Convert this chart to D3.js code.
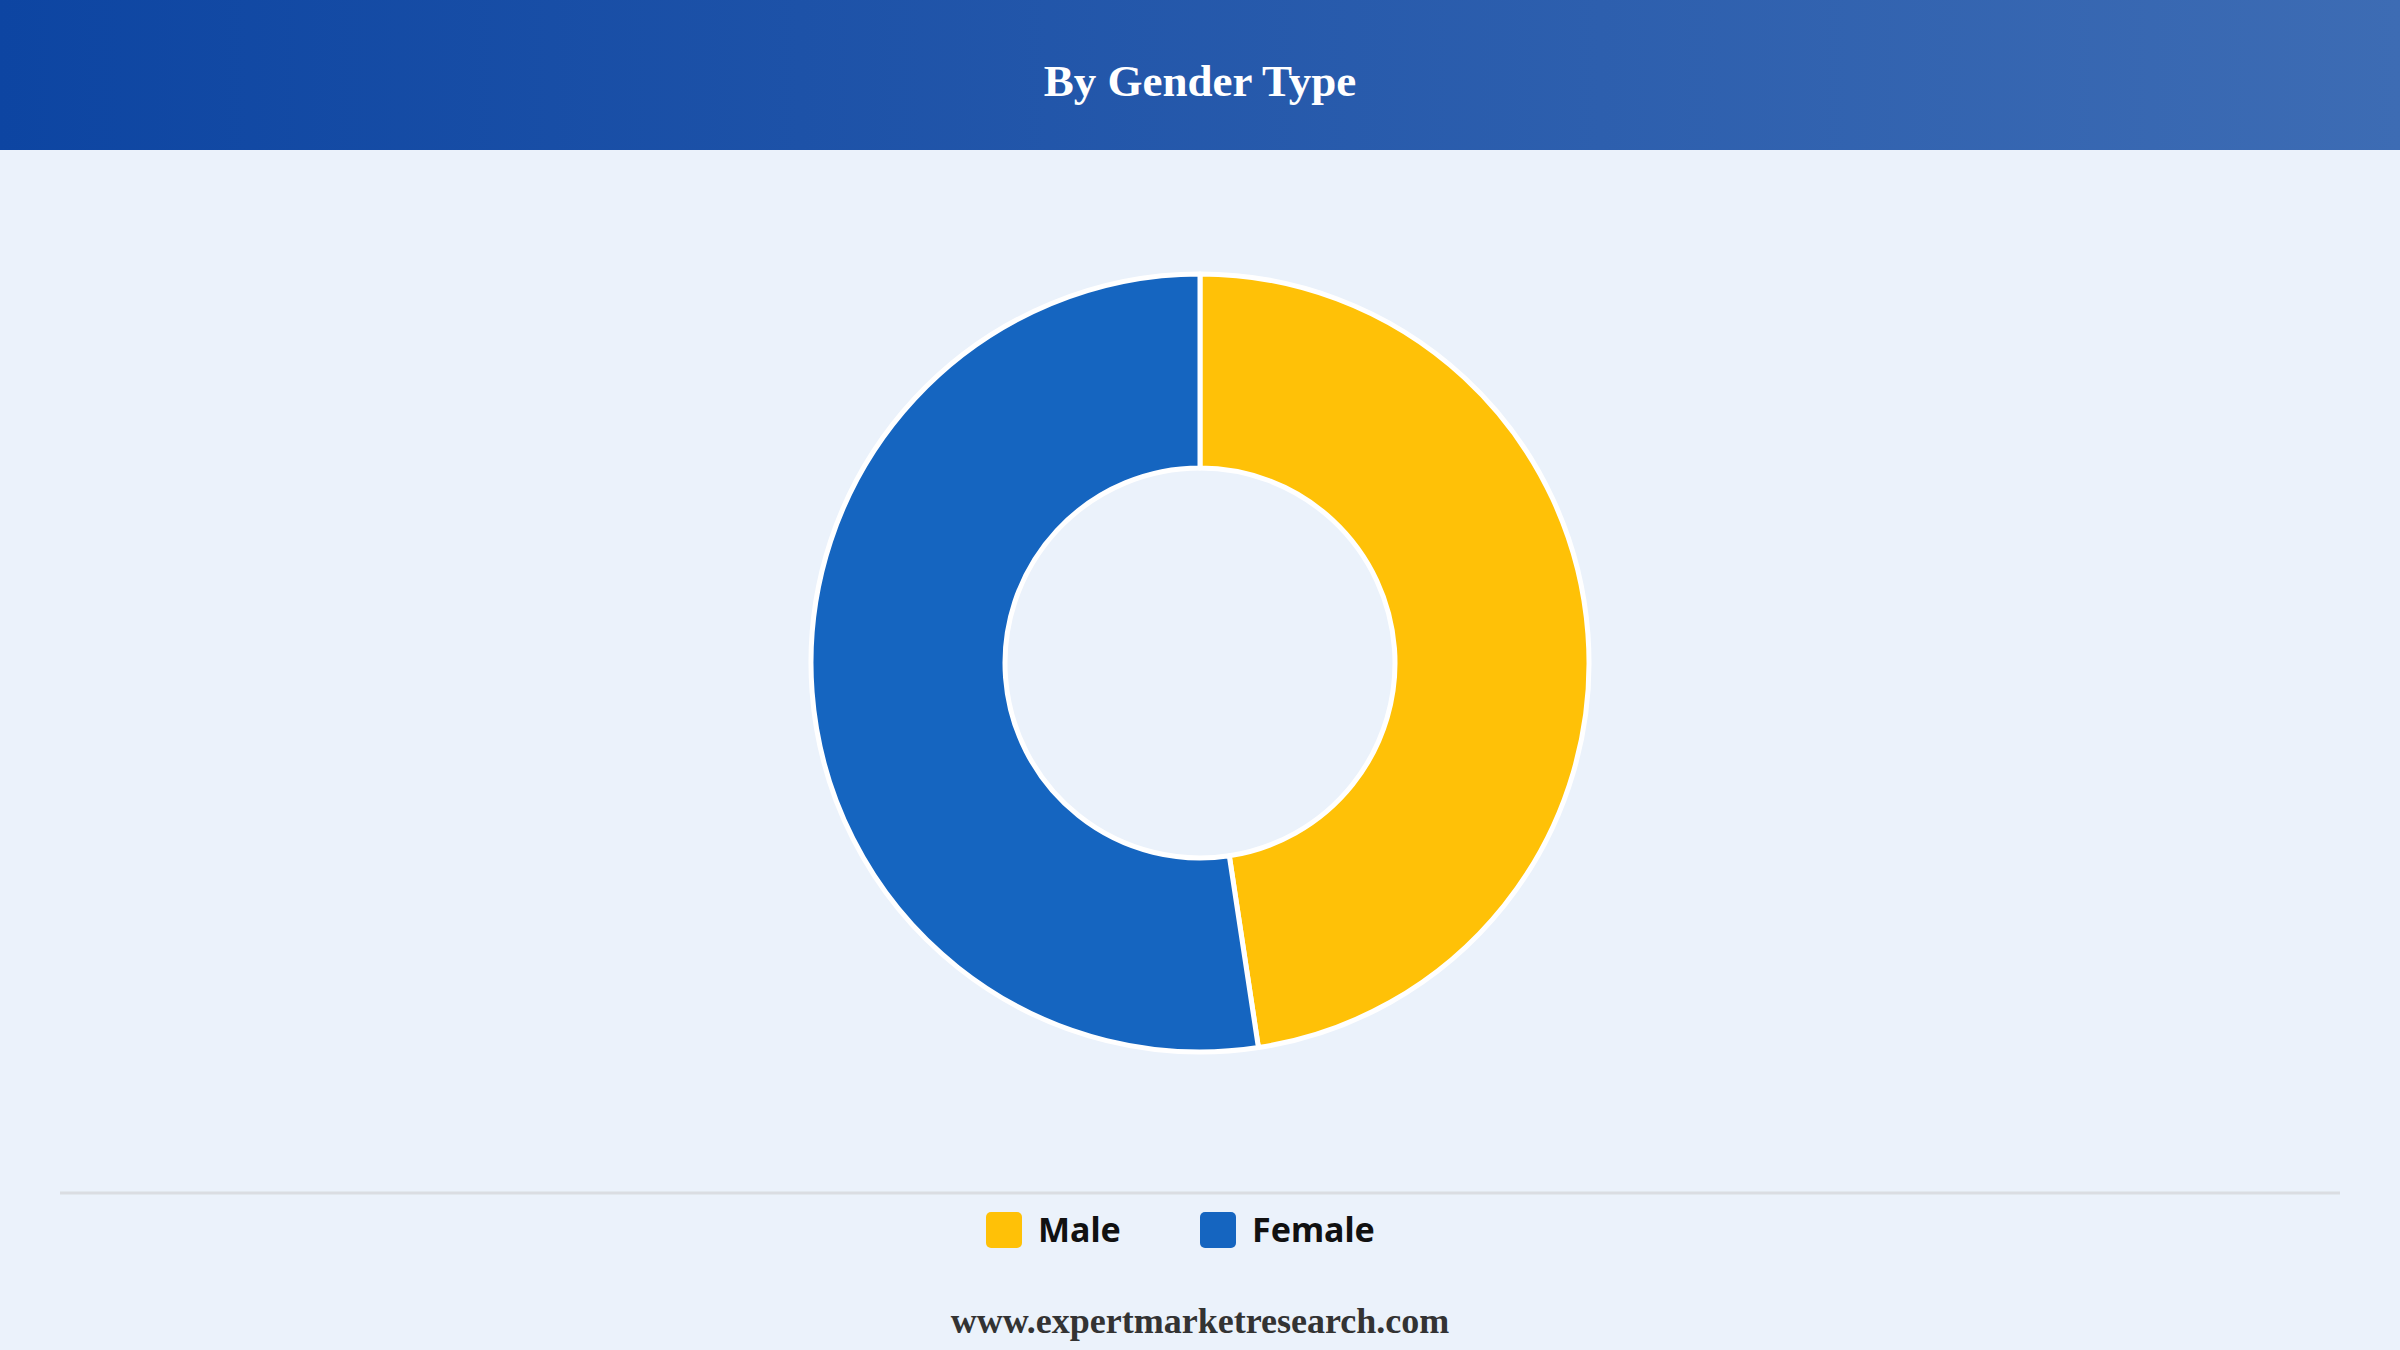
<!DOCTYPE html>
<html>
<head>
<meta charset="utf-8">
<script src="https://cdn.jsdelivr.net/npm/d3@7"></script>
<style>
  html, body { margin: 0; padding: 0; background: #ebf2fb; }
  svg { display: block; }
</style>
</head>
<body>
<div id="chart"></div>
<script>
var categories = ["Male", "Female"];
var shares = [47.6, 52.4];
var colors = ["#ffc107", "#1565c0"];
var title = "By Gender Type";
var footer = "www.expertmarketresearch.com";

var W = 2400, H = 1350;

var svg = d3.select("#chart")
    .append("svg")
    .attr("width", W)
    .attr("height", H);

var defs = svg.append("defs");
var grad = defs.append("linearGradient")
    .attr("id", "hdr")
    .attr("x1", "0%").attr("x2", "100%")
    .attr("y1", "0%").attr("y2", "0%");
grad.append("stop").attr("offset", "0%").attr("stop-color", "#0d45a2");
grad.append("stop").attr("offset", "100%").attr("stop-color", "#3d6cb4");

svg.append("rect")
    .attr("width", W).attr("height", H)
    .attr("fill", "#ebf2fb");

svg.append("rect")
    .attr("width", W).attr("height", 150)
    .attr("fill", "url(#hdr)");

svg.append("text")
    .attr("x", W / 2)
    .attr("y", 96)
    .attr("text-anchor", "middle")
    .attr("fill", "#ffffff")
    .style("font-family", "'Liberation Serif', 'Times New Roman', serif")
    .style("font-weight", "bold")
    .style("font-size", "45px")
    .text(title);

// donut
var data = categories.map(function (c, i) {
    return {name: c, value: shares[i], color: colors[i]};
});

var pie = d3.pie()
    .sort(null)
    .value(function (d) { return d.value; });

var arc = d3.arc()
    .innerRadius(195)
    .outerRadius(389);

var g = svg.append("g")
    .attr("transform", "translate(1200,663)");

g.selectAll("path")
    .data(pie(data))
    .enter()
    .append("path")
    .attr("d", arc)
    .attr("fill", function (d) { return d.data.color; })
    .attr("stroke", "#ffffff")
    .attr("stroke-width", 5)
    .attr("stroke-linejoin", "round");

// separator
svg.append("line")
    .attr("x1", 60).attr("x2", 2340)
    .attr("y1", 1193).attr("y2", 1193)
    .attr("stroke", "#dadde2")
    .attr("stroke-width", 3);

// legend
var legendX = [986, 1200];
var leg = svg.selectAll(".leg")
    .data(data)
    .enter()
    .append("g")
    .attr("class", "leg")
    .attr("transform", function (d, i) { return "translate(" + legendX[i] + ",1212)"; });

leg.append("rect")
    .attr("width", 36)
    .attr("height", 36)
    .attr("rx", 5)
    .attr("fill", function (d) { return d.color; });

leg.append("text")
    .attr("x", 52)
    .attr("y", 30)
    .attr("fill", "#111111")
    .style("font-family", "'Noto Sans', 'Open Sans', sans-serif")
    .style("font-weight", "bold")
    .style("font-size", "34px")
    .text(function (d) { return d.name; });

svg.append("text")
    .attr("x", W / 2)
    .attr("y", 1333)
    .attr("text-anchor", "middle")
    .attr("fill", "#333333")
    .style("font-family", "'Liberation Serif', 'Times New Roman', serif")
    .style("font-weight", "bold")
    .style("font-size", "36px")
    .text(footer);
</script>
</body>
</html>
